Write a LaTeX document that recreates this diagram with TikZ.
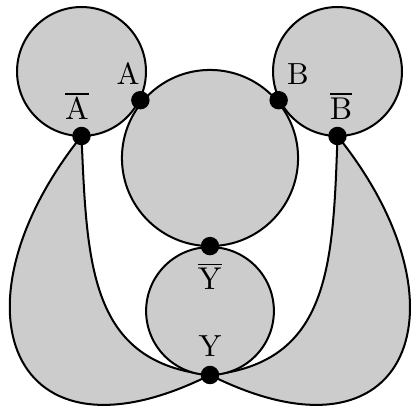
\documentclass[tikz,border=0pt]{standalone}
\usetikzlibrary{positioning}
\begin{document}
\begin{tikzpicture}[
    x=0.0122cm, y=-0.0122cm,
    every node/.style = {font=\fontsize{10.6}{12}\selectfont},
    blob/.style = {draw, circle, line width=0.7pt, fill=gray!40, inner sep=0pt},
    lobe/.style = {draw, line width=0.7pt, fill=gray!40},
    pt/.style   = {circle, fill=black, inner sep=0pt, minimum size=2.25mm},
]
\useasboundingbox (0,0) rectangle (411,412);

% contact points
\coordinate (Abar) at (81.5,136);
\coordinate (Bbar) at (337.5,136);
\coordinate (Y) at (210,375);

% lobes
\draw[lobe] (Abar) .. controls (-54,306) and (10,475) .. (Y)
            .. controls (90,363) and (87,266) .. (Abar) -- cycle;
\draw[lobe] (Bbar) .. controls (474,306) and (410,475) .. (Y)
            .. controls (330,363) and (333,266) .. (Bbar) -- cycle;

% circles
\node[blob, minimum size=1.574cm] (L) at (81.5,71.5) {};
\node[blob, minimum size=1.574cm] (R) at (337.5,71.5) {};
\node[blob, minimum size=2.15cm]  (M) at (210,158) {};
\node[blob, minimum size=1.56cm]  (D) at (210,311) {};

% dots
\node[pt] (pA)    at (L.-26) {};
\node[pt] (pB)    at (R.206) {};
\node[pt] (pAbar) at (Abar) {};
\node[pt] (pBbar) at (Bbar) {};
\node[pt] (pYbar) at (D.north) {};
\node[pt] (pY)    at (Y) {};

% labels
\node (lA)    at (128,74)  {A};
\node (lB)    at (298,74)  {B};
\node (lAbar) at (77,106)  {$\overline{\mathrm{A}}$};
\node (lBbar) at (341,106) {$\overline{\mathrm{B}}$};
\node (lYbar) at (210,276) {$\overline{\mathrm{Y}}$};
\node (lY)    at (210,346) {Y};
\end{tikzpicture}
\end{document}
